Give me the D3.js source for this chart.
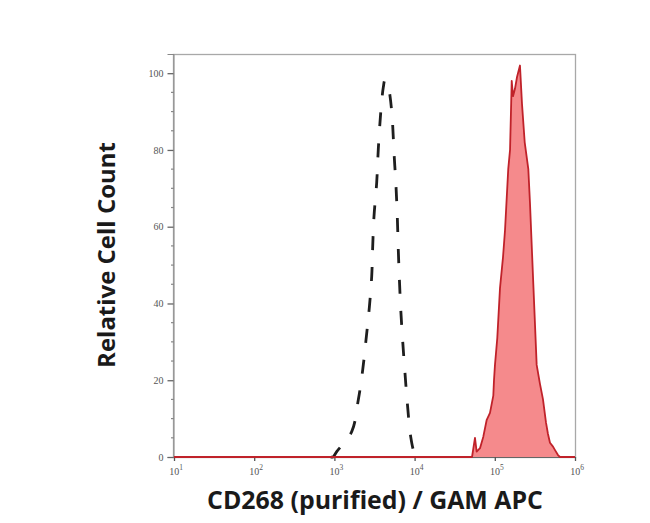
<!DOCTYPE html>
<html>
<head>
<meta charset="utf-8">
<script src="https://cdn.jsdelivr.net/npm/d3@7"></script>
<style>
  html, body { margin: 0; padding: 0; background: #fff; }
  svg { display: block; }
</style>
</head>
<body>
<svg id="chart" width="650" height="523"></svg>
<script>
// ---- Data ----
const yTickValues = [0, 20, 40, 60, 80, 100];
const xTickExponents = [1, 2, 3, 4, 5, 6];

// Negative control (dashed) : fluorescence, relative count
const controlIntensity = [900, 961, 1069, 1644, 1987, 2254, 2478, 2725, 2919, 3004, 3117, 3368, 3527, 3780, 4070, 4274, 4659, 4935, 5272, 5534, 5861, 6083, 6262, 6442, 6701, 7109, 7586, 8110, 8937, 9840, 10720];
const controlCount     = [0, 0, 1.4, 6.6, 14.9, 22.7, 30.5, 38.9, 47.1, 54.9, 62.7, 71.5, 80.2, 89.7, 96.3, 98.2, 96.9, 94.1, 88, 79.4, 70.6, 62.7, 54, 47, 38.9, 30.1, 21.9, 14.1, 5.3, 1.3, 0];

// CD268 stained sample (red filled)
const sampleIntensity = [10, 52000, 56600, 59400, 65400, 71900, 79300, 87100, 95800, 97700, 100500, 107400, 116100, 126500, 134000, 147100, 154900, 162500, 168700, 178700, 189300, 206000, 218300, 236000, 261800, 274800, 302200, 332700, 366200, 398800, 434500, 460300, 487600, 532100, 563600, 613800, 650000, 1000000];
const sampleCount     = [0, 0, 5, 1.4, 2.3, 5.3, 9.7, 11.5, 16, 20, 24, 31, 44, 52, 59, 75, 80, 98, 94, 96, 99, 102, 92, 82, 75, 66, 45, 24, 19, 15, 9, 6, 3.7, 2.7, 1.8, 0.5, 0, 0];

const xTitle = "CD268 (purified) / GAM APC";
const yTitle = "Relative Cell Count";

// ---- Layout ----
const svg = d3.select("#chart");
const pLeft = 174, pRight = 575, pTop = 54, pBottom = 457;

const x = d3.scaleLog().domain([10, 1e6]).range([pLeft, pRight]);
const y = d3.scaleLinear().domain([0, 105]).range([pBottom, pTop]);

const control = controlIntensity.map((v, i) => ({x: v, y: controlCount[i]}));
const sample = sampleIntensity.map((v, i) => ({x: v, y: sampleCount[i]}));

// Frame
svg.append("rect")
  .attr("x", pLeft - 0.5).attr("y", pTop + 0.5)
  .attr("width", pRight - pLeft + 1).attr("height", pBottom - pTop)
  .attr("fill", "none").attr("stroke", "#a8a8a8").attr("stroke-width", 1.3);

// Y axis
const yAxis = d3.axisLeft(y).tickValues(yTickValues).tickSize(6).tickPadding(4);
const gy = svg.append("g").attr("transform", `translate(${pLeft - 0.5},0)`).call(yAxis);
gy.select(".domain").attr("stroke", "#888");
gy.selectAll(".tick line").attr("stroke", "#666").attr("stroke-width", 1.3);
gy.selectAll(".tick text").attr("font-family", "Liberation Serif, serif").attr("font-size", 10).attr("fill", "#555");

// Y minor ticks every 5
const yMinor = d3.range(5, 105, 5).filter(v => v % 20 !== 0);
svg.append("g").selectAll("line").data(yMinor).join("line")
  .attr("x1", pLeft - 3).attr("x2", pLeft)
  .attr("y1", d => y(d)).attr("y2", d => y(d))
  .attr("stroke", "#888").attr("stroke-width", 1.2);

// X axis
const xAxis = d3.axisBottom(x).tickValues(xTickExponents.map(e => Math.pow(10, e))).tickSize(4).tickFormat("");
const gx = svg.append("g").attr("transform", `translate(0,${pBottom})`).call(xAxis);
gx.select(".domain").attr("stroke", "#666");
gx.selectAll(".tick line").attr("stroke", "#555").attr("stroke-width", 1.3);

// X tick labels with superscripts
const xl = svg.append("g").selectAll("text").data(xTickExponents).join("text")
  .attr("x", d => x(Math.pow(10, d)) + 2)
  .attr("y", pBottom + 18)
  .attr("text-anchor", "middle")
  .attr("font-family", "Liberation Serif, serif")
  .attr("font-size", 10)
  .attr("fill", "#555");
xl.append("tspan").text("10");
xl.append("tspan").attr("dy", -5).attr("font-size", 7.5).text(d => d);

// Sample (red filled)
const area = d3.area().x(d => x(d.x)).y0(y(0)).y1(d => y(d.y)).curve(d3.curveLinear);
const line = d3.line().x(d => x(d.x)).y(d => y(d.y));
svg.append("path").datum(sample).attr("d", area).attr("fill", "#f58a8c");

// Control (dashed)
const cline = d3.line().x(d => x(d.x)).y(d => y(d.y)).curve(d3.curveCatmullRom);
svg.append("path").datum(control).attr("d", cline)
  .attr("fill", "none").attr("stroke", "#1e1e1e").attr("stroke-width", 2.8)
  .attr("stroke-dasharray", "14,17").attr("stroke-linecap", "butt");

svg.append("path").datum(sample).attr("d", line)
  .attr("fill", "none").attr("stroke", "#c0222a").attr("stroke-width", 1.8).attr("stroke-linejoin", "round");

// Axis titles
function fitText(sel, width) {
  const len = sel.node().getComputedTextLength();
  const fs = parseFloat(sel.attr("font-size"));
  sel.attr("font-size", fs * width / len);
}
const xt = svg.append("text")
  .attr("x", 375).attr("y", 509)
  .attr("text-anchor", "middle")
  .attr("font-family", "Open Sans, DejaVu Sans, sans-serif")
  .attr("font-weight", "bold").attr("font-size", 20).attr("fill", "#1a1a1a")
  .text(xTitle);
fitText(xt, 336);

const yt = svg.append("text")
  .attr("transform", "translate(115,255) rotate(-90)")
  .attr("text-anchor", "middle")
  .attr("font-family", "Open Sans, DejaVu Sans, sans-serif")
  .attr("font-weight", "bold").attr("font-size", 20).attr("fill", "#1a1a1a")
  .text(yTitle);
fitText(yt, 226);
</script>
</body>
</html>
